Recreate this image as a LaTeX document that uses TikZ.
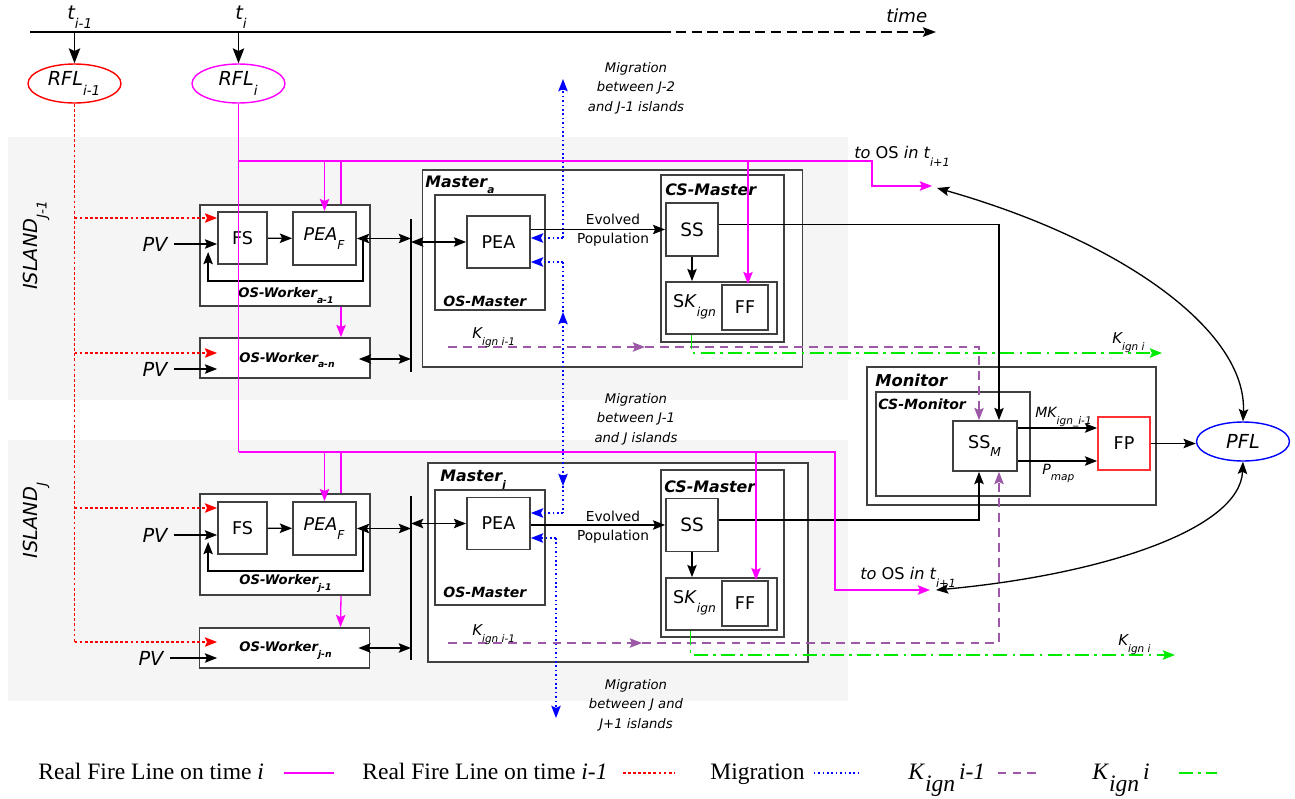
\documentclass[tikz,border=0pt]{standalone}
\usepackage{fontspec}
\setmainfont{DejaVu Sans}
\newfontfamily\legendfont{Liberation Serif}
\usetikzlibrary{arrows.meta,calc,shapes.geometric}
\definecolor{kpurple}{RGB}{155,89,166}
\definecolor{kgreen}{RGB}{0,235,0}
\definecolor{rflmag}{RGB}{255,0,255}
\newcommand{\sub}[1]{\raisebox{-0.32em}{\textsubscript{\itshape #1}}}

\begin{document}
\begin{tikzpicture}[x=0.02cm, y=-0.02cm,
    box/.style={draw=black!75, line width=1pt, fill=white, inner sep=0pt, font=\fontsize{10}{12}\selectfont},
    wkbig/.style={box, minimum width=3.4cm, minimum height=2.02cm},
    wksmall/.style={box, minimum width=3.4cm, minimum height=0.8cm},
    fsbox/.style={box, minimum width=0.98cm, minimum height=1.04cm},
    peafbox/.style={box, minimum width=1.26cm, minimum height=1.06cm, font=\fontsize{10}{12}\selectfont\itshape},
    osmbox/.style={box, minimum width=2.2cm, minimum height=2.3cm},
    peabox/.style={box, minimum width=1.26cm, minimum height=1.04cm},
    csmbox/.style={box, minimum width=2.46cm, minimum height=3.34cm},
    ssbox/.style={box, minimum width=1.04cm, minimum height=1.06cm, font=\fontsize{10.5}{12}\selectfont},
    skbox/.style={box, minimum width=2.22cm, minimum height=1.04cm},
    ffbox/.style={box, minimum width=0.92cm, minimum height=0.9cm},
    sklbl/.style={inner sep=0pt, font=\fontsize{10}{12}\selectfont},
    ell/.style={ellipse, line width=0.8pt, minimum width=1.86cm, minimum height=0.78cm, inner sep=0pt, font=\fontsize{11}{13}\selectfont\itshape},
    ttl/.style={anchor=base west, inner sep=0pt, font=\fontsize{9}{11}\selectfont\bfseries\itshape},
    subttl/.style={ttl, font=\fontsize{8}{10}\selectfont\bfseries\itshape},
    wkttl/.style={ttl, font=\fontsize{7.5}{9}\selectfont\bfseries\itshape},
    txt/.style={inner sep=0pt, font=\fontsize{11}{13}\selectfont\itshape},
    smtxt/.style={anchor=base west, inner sep=0pt, font=\fontsize{8.5}{10}\selectfont\itshape},
    migtxt/.style={align=center, inner sep=0pt, font=\fontsize{7.5}{11.1}\selectfont\itshape},
    evo/.style={align=center, inner sep=0pt, font=\fontsize{7.8}{10.9}\selectfont},
    leg/.style={anchor=base west, inner sep=0pt, font=\legendfont\fontsize{13.4}{15}\selectfont},
    arr/.style={line width=0.75pt, -{Stealth[length=7pt, width=5.4pt, inset=1.3pt]}},
    darr/.style={line width=0.75pt, {Stealth[length=7pt, width=5.4pt, inset=1.3pt]}-{Stealth[length=7pt, width=5.4pt, inset=1.3pt]}},
    bigarr/.style={line width=0.9pt, -{Stealth[length=8.5pt, width=6.5pt, inset=1.5pt]}},
    rfl/.style={draw=rflmag, line width=0.8pt},
    rflold/.style={draw=red, line width=0.9pt, dash pattern=on 1.6pt off 1.3pt},
    mig/.style={draw=blue, line width=0.9pt, dash pattern=on 0.9pt off 1.6pt},
    kold/.style={draw=kpurple, line width=0.8pt, dash pattern=on 5pt off 3.5pt},
    knew/.style={draw=kgreen, line width=0.9pt, dash pattern=on 8pt off 3pt on 1.5pt off 3pt}
]
\useasboundingbox (0,0) rectangle (1295,798);

% island bands
\fill[black!4] (8,137) rectangle (848,400);
\fill[black!4] (8,440) rectangle (848,701);
\node[txt, rotate=90] (islA) at (36,245) {ISLAND\sub{J-1}};
\node[txt, rotate=90] (islJ) at (36,520) {ISLAND\sub{J}};

% time axis
\coordinate (t0) at (30,32);
\coordinate (tdash) at (660,32);
\coordinate (tend) at (936,32);
\draw[line width=0.8pt] (t0) -- (tdash);
\draw[line width=0.8pt, dash pattern=on 6pt off 3pt, -{Stealth[length=7.5pt, width=5.5pt, inset=1.3pt]}] (tdash) -- (tend);
\node[smtxt, font=\fontsize{10.3}{12}\selectfont\itshape] (timelbl) at (886,22) {time};
\node[txt, anchor=base west] (tprev) at (67,19) {t\sub{i-1}};
\node[txt, anchor=base west] (tcur) at (235,19) {t\sub{i}};
\node[ell, draw=red] (rflprev) at (74.5,83.5) {RFL\sub{i-1}};
\node[ell, draw=rflmag] (rflcur) at (238.5,83.5) {RFL\sub{i}};
\draw[bigarr] (rflprev.north |- t0) -- (rflprev.north);
\draw[bigarr] (rflcur.north |- t0) -- (rflcur.north);

% island J-1 : workers
\node[wkbig] (wkA1) at (285,255.5) {};
\node[fsbox] (fsA) at (242.5,238) {FS};
\node[peafbox] (peafA) at (324.5,238.5) {PEA\sub{F}};
\node[wkttl] (wkA1lbl) at (238,297) {OS-Worker\sub{a-1}};
\node[wksmall] (wkAn) at (285,358) {};
\node[wkttl] (wkAnlbl) at (239,362) {OS-Worker\sub{a-n}};
\node[txt] (pvA1) at (155,244) {PV};
\node[txt] (pvAn) at (155,369) {PV};

% island J-1 : master
\node[box, minimum width=7.6cm, minimum height=3.94cm] (mastA) at (612.5,268.5) {};
\node[ttl] (mastAlbl) at (425,187) {Master\sub{a}};
\node[osmbox] (osmA) at (490,252.5) {};
\node[subttl] (osmAlbl) at (443,306) {OS-Master};
\node[peabox] (peaA) at (498.5,242) {PEA};
\node[csmbox] (csmA) at (722.5,258.5) {};
\node[ttl] (csmAlbl) at (665,195) {CS-Master};
\node[ssbox] (ssA) at (692,229.5) {SS};
\node[skbox] (skA) at (721.5,308) {};
\node[sklbl] (skAlbl) at (695,307) {S\textit{K}\sub{ign}};
\node[ffbox] (ffA) at (745,307.5) {FF};
\node[evo] (evoA) at (613,230) {Evolved\\Population};

% island J : workers
\node[wkbig] (wkJ1) at (285,544.5) {};
\node[fsbox] (fsJ) at (242.5,528) {FS};
\node[peafbox] (peafJ) at (324.5,528.5) {PEA\sub{F}};
\node[wkttl] (wkJ1lbl) at (239,584) {OS-Worker\sub{j-1}};
\node[wksmall] (wkJn) at (284.5,648) {};
\node[wkttl] (wkJnlbl) at (239,651) {OS-Worker\sub{j-n}};
\node[txt] (pvJ1) at (155,535) {PV};
\node[txt] (pvJn) at (151,658) {PV};

% island J : master
\node[box, minimum width=7.6cm, minimum height=3.98cm] (mastJ) at (618,562.5) {};
\node[ttl] (mastJlbl) at (440,481) {Master\sub{j}};
\node[osmbox] (osmJ) at (490,547.5) {};
\node[subttl] (osmJlbl) at (443,597) {OS-Master};
\node[peabox] (peaJ) at (498.5,523.5) {PEA};
\node[csmbox] (csmJ) at (722.5,553.5) {};
\node[ttl] (csmJlbl) at (664,492) {CS-Master};
\node[ssbox] (ssJ) at (692,525) {SS};
\node[skbox] (skJ) at (721.5,604) {};
\node[sklbl] (skJlbl) at (695,603) {S\textit{K}\sub{ign}};
\node[ffbox] (ffJ) at (745,603.5) {FF};
\node[evo] (evoJ) at (613,527) {Evolved\\Population};

% monitor
\node[box, minimum width=5.78cm, minimum height=2.76cm] (mon) at (1011.5,436) {};
\node[ttl, font=\fontsize{9.3}{11}\selectfont\bfseries\itshape] (monlbl) at (875,386) {Monitor};
\node[box, minimum width=3.08cm, minimum height=2.08cm] (csmon) at (953,444) {};
\node[subttl] (csmonlbl) at (878,409) {CS-Monitor};
\node[box, minimum width=1.28cm, minimum height=1.0cm] (ssm) at (985,446) {SS\sub{M}};
\node[box, draw=red!80, minimum width=1.04cm, minimum height=1.06cm] (fp) at (1124,443.5) {FP};
\node[ell, draw=blue] (pfl) at (1243,441.5) {PFL};
\node[smtxt, font=\fontsize{8}{10}\selectfont\itshape] (mklbl) at (1035,417) {MK\sub{ign\_i-1}};
\node[smtxt, font=\fontsize{8}{10}\selectfont\itshape] (pmaplbl) at (1042,474) {P\sub{map}};
\draw[arr] ($(ssm.east)+(0,-18)$) coordinate (mk0) -- (mk0 -| fp.west);
\draw[arr] ($(ssm.east)+(0,15)$) coordinate (pm0) -- (pm0 -| fp.west);
\draw[arr] (fp.east) -- (fp.east -| pfl.west);

% worker connectors
\draw[arr] (fsA) -- (peafA);
\draw[arr] (fsJ) -- (peafJ);
\draw[arr] ($(pvA1.east)+(6,0)$) -- (pvA1 -| fsA.west);
\draw[arr] ($(pvAn.east)+(6,0)$) -- (pvAn -| fsA.west);
\draw[arr] ($(pvJ1.east)+(6,0)$) -- (pvJ1 -| fsJ.west);
\draw[arr] ($(pvJn.east)+(6,0)$) -- (pvJn -| fsJ.west);
\draw[arr] ($(peafA.east)+(6,0)$) |- ($(fsA.south west)+(-9,16)$) -- ($(fsA.west)+(-9,14)$);
\draw[arr] ($(peafJ.east)+(6,0)$) |- ($(fsJ.south west)+(-9,16)$) -- ($(fsJ.west)+(-9,14)$);

% bus bars
\coordinate (busAt) at (411,219);
\coordinate (busAb) at (411,372);
\coordinate (busJt) at (411,496);
\coordinate (busJb) at (411,660);
\draw[line width=1pt] (busAt) -- (busAb);
\draw[line width=1pt] (busJt) -- (busJb);
\draw[darr] (peafA.east) -- (peafA.east -| busAt);
\draw[darr] ($(wkAn.east)+(-12,1)$) -- ($(wkAn.east -| busAt)+(0,1)$);
\draw[darr] (busAt |- peaA.west) -- (peaA.west);
\draw[darr] (peafJ.east) -- (peafJ.east -| busJt);
\draw[darr] ($(wkJn.east)+(-12,0)$) -- (wkJn.east -| busJt);
\draw[darr] (busJt |- peaJ.west) -- (peaJ.west);

% master connectors
\draw[arr] (peaA.east |- ssA.west) -- (ssA.west);
\draw[arr] (ssA.south) -- (ssA.south |- skA.north);
\draw[arr] (peaJ.east |- ssJ.west) -- (ssJ.west);
\draw[arr] (ssJ.south) -- (ssJ.south |- skJ.north);
\draw[arr] ($(ssA.east)+(0,-5)$) -| ($(ssm.north)+(14,0)$);
\draw[arr] ($(ssJ.east)+(0,-5)$) -| ($(ssm.south)+(-6,0)$);

% real fire line i-1
\coordinate (redA1) at (74.5,218);
\coordinate (redAn) at (74.5,353);
\coordinate (redJ1) at (74.5,508);
\coordinate (redJn) at (74.5,642);
\draw[rflold] (rflprev.south) -- (redJn);
\draw[rflold, arr] (redA1) -- (redA1 -| fsA.west);
\draw[rflold, arr] (redAn) -- (redAn -| fsA.west);
\draw[rflold, arr] (redJ1) -- (redJ1 -| fsJ.west);
\draw[rflold, arr] (redJn) -- (redJn -| fsJ.west);

% real fire line i
\coordinate (magA) at (238.5,161);
\coordinate (magJ) at (238.5,452);
\coordinate (osA) at (932,186);
\coordinate (osJ) at (930,590);
\draw[rfl] (rflcur.south) -- (magJ);
\draw[rfl, arr] (magA) -| ($(osA)+(-60,0)$) -- (osA);
\draw[rfl, arr] (magJ) -| ($(osJ)+(-95,0)$) -- (osJ);
\coordinate (wkA1top) at ($(wkA1.north)+(56,0)$);
\coordinate (wkJ1top) at ($(wkJ1.north)+(56,0)$);
\coordinate (ffAtop) at ($(ffA.north)+(3,0)$);
\coordinate (ffJtop) at ($(ffJ.north)+(11,0)$);
\draw[rfl, arr] (magA -| peafA.north) -- (peafA.north);
\draw[rfl] (magA -| wkA1top) -- (wkA1top);
\draw[rfl, arr] ($(wkA1.south)+(56,0)$) -- ($(wkAn.north)+(56,0)$);
\draw[rfl, arr] (magA -| ffAtop) -- (ffAtop);
\draw[rfl, arr] (magJ -| peafJ.north) -- (peafJ.north);
\draw[rfl] (magJ -| wkJ1top) -- (wkJ1top);
\draw[rfl, arr] ($(wkJ1.south)+(56,0)$) -- ($(wkJn.north)+(56,0)$);
\draw[rfl, arr] (magJ -| ffJtop) -- (ffJtop);
\node[smtxt, font=\fontsize{9.2}{11}\selectfont\itshape] (osAlbl) at (854,158) {to {\upshape OS} in t\sub{i+1}};
\node[smtxt, font=\fontsize{9.2}{11}\selectfont\itshape] (osJlbl) at (860,579) {to {\upshape OS} in t\sub{i+1}};
\draw[darr] ($(osA)+(5,2)$) .. controls (1120,240) and (1247,330) .. (pfl.north);
\draw[darr] ($(osJ)+(6,0)$) .. controls (1100,575) and (1240,530) .. (pfl.south);

% migration
\coordinate (migtop) at (563,79);
\coordinate (migA1) at (563,238);
\coordinate (migA2) at (563,262);
\coordinate (migJ1) at (563,513);
\coordinate (migJ2) at (556,538);
\coordinate (migbot) at (556,718);
\draw[mig, arr] (migA1) -- (migA1 -| peaA.east);
\draw[mig, arr] (migA1) -- (migtop);
\draw[mig, arr] (migA2) -- (migA2 -| peaA.east);
\draw[mig] (migA2) -- ($(migA2)+(0,50)$);
\draw[mig, darr] ($(migA2)+(0,50)$) -- ($(migJ1)+(0,-27)$);
\draw[mig] ($(migJ1)+(0,-27)$) -- (migJ1);
\draw[mig, arr] (migJ1) -- (migJ1 -| peaJ.east);
\draw[mig, arr] (migJ2) -- (migJ2 -| peaJ.east);
\draw[mig, arr] (migJ2) -- (migbot);
\node[migtxt] (migAtxt) at (636,88) {Migration\\between J-2\\and J-1 islands};
\node[migtxt] (migAJtxt) at (636,419) {Migration\\between J-1\\and J islands};
\node[migtxt] (migJtxt) at (636,705) {Migration\\between J and\\J+1 islands};

% K ign
\coordinate (kA0) at (448,347);
\coordinate (kAm) at (645,347);
\coordinate (kJ0) at (448,643);
\coordinate (kJm) at (642,643);
\coordinate (kAend) at (1162,353);
\coordinate (kJend) at (1175,655);
\draw[kold, arr] (kA0) -- (kAm);
\draw[kold, arr] (kAm) -| ($(ssm.north)+(-6,0)$);
\draw[kold, arr] (kJ0) -- (kJm);
\draw[kold, arr] (kJm) -| ($(ssm.south)+(14,0)$);
\draw[knew, arr] ($(skA.south)+(-30,0)$) |- (kAend);
\draw[knew, arr] ($(skJ.south)+(-31,0)$) |- (kJend);
\node[smtxt] (kAlbl) at (472,338) {K\sub{ign i-1}};
\node[smtxt] (kJlbl) at (472,635) {K\sub{ign i-1}};
\node[smtxt] (kAnlbl) at (1112,343) {K\sub{ign i}};
\node[smtxt] (kJnlbl) at (1118,645) {K\sub{ign i}};

% legend
\node[leg] (leg1) at (38,779) {Real Fire Line on time \textit{i}};
\node[leg] (leg2) at (362,779) {Real Fire Line on time \textit{i-1}};
\node[leg] (leg3) at (710,779) {Migration};
\node[leg] (leg4) at (908,779) {\textit{K}\raisebox{-0.55em}{\textit{ign}}\,\textit{i-1}};
\node[leg] (leg5) at (1092,779) {\textit{K}\raisebox{-0.55em}{\textit{ign}}\,\textit{i}};
\draw[rfl] ($(leg1.base east)+(20,-6)$) -- ++(50,0);
\draw[rflold] ($(leg2.base east)+(15,-6)$) -- ++(51,0);
\draw[mig] ($(leg3.base east)+(9,-6)$) -- ++(47,0);
\draw[kold] ($(leg4.base east)+(12,-6)$) -- ++(38,0);
\draw[knew] ($(leg5.base east)+(29,-6)$) -- ++(38,0);
\end{tikzpicture}
\end{document}
